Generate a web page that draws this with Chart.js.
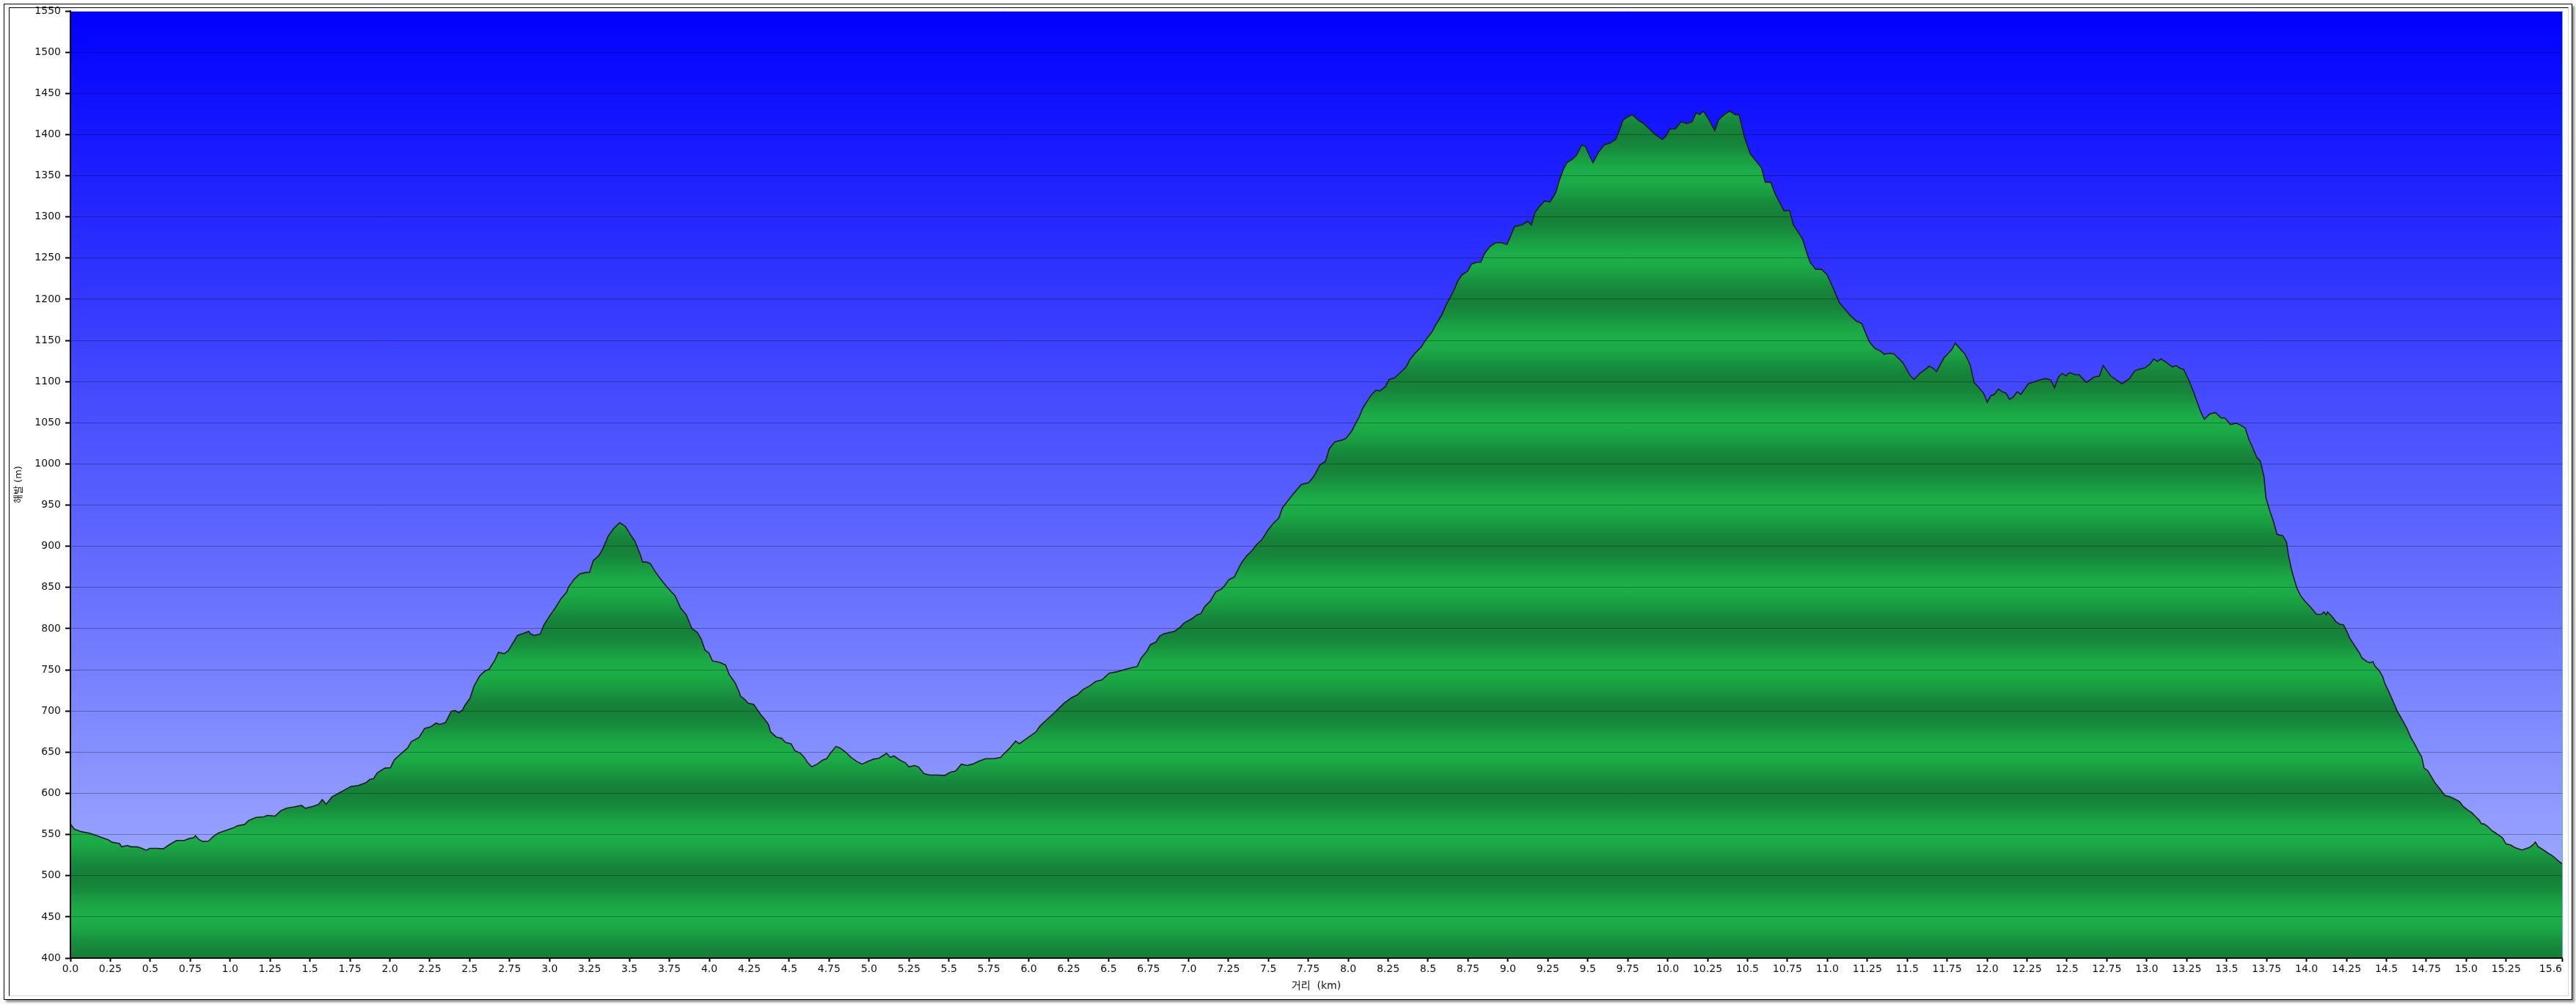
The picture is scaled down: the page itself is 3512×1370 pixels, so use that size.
<!DOCTYPE html>
<html lang="ko">
<head>
<meta charset="utf-8">
<title>고도 프로파일</title>
<script src="https://cdn.jsdelivr.net/npm/chart.js@4.4.1/dist/chart.umd.min.js"></script>
<style>
  html, body { margin: 0; padding: 0; background: #fff; }
  #wrap { position: relative; width: 3512px; height: 1370px; overflow: hidden; }
  .frame-outer {
    position: absolute; left: 5px; top: 5px; width: 3500px; height: 1356px;
    border: 1px solid #000; box-shadow: 3px 3px 3px rgba(0,0,0,0.45);
  }
  .frame-inner {
    position: absolute; left: 12px; top: 10px; width: 3488px; height: 1346px;
    border-left: 1px solid #000; border-top: 1px solid #000;
    border-right: 1px solid #d8d8d8; border-bottom: 1px solid #d8d8d8;
  }
  canvas { position: absolute; left: 0; top: 0; }
</style>
</head>
<body>
<div id="wrap">
  <div class="frame-outer"></div>
  <div class="frame-inner"></div>
  <canvas id="profile" width="3512" height="1370"></canvas>
</div>
<script>
// distance along the track (km) and elevation (m)
const distKm = [
  0.000,0.024,0.071,0.119,0.166,0.213,0.237,0.261,0.308,0.320,0.356,0.380,0.415,0.439,0.474,0.498,0.546,0.581,0.617,0.664,
  0.712,0.747,0.771,0.783,0.806,0.830,0.866,0.890,0.925,0.973,1.020,1.044,1.091,1.115,1.162,1.210,1.233,1.281,1.316,1.352,
  1.399,1.447,1.471,1.518,1.554,1.577,1.601,1.637,1.684,1.708,1.755,1.803,1.850,1.874,1.898,1.921,1.969,2.004,2.028,2.064,
  2.111,2.135,2.182,2.218,2.253,2.289,2.313,2.348,2.384,2.408,2.431,2.455,2.467,2.502,2.526,2.562,2.597,2.621,2.657,2.680,
  2.716,2.740,2.775,2.799,2.835,2.870,2.882,2.906,2.941,2.965,3.001,3.036,3.072,3.107,3.119,3.155,3.190,3.226,3.250,3.273,
  3.309,3.333,3.368,3.404,3.439,3.475,3.511,3.534,3.570,3.582,3.605,3.629,3.665,3.688,
  3.739,3.786,3.821,3.856,3.891,3.926,3.950,3.973,3.997,4.020,4.067,4.102,4.125,4.161,4.184,4.196,4.219,4.243,4.278,4.301,
  4.325,4.348,4.371,4.383,4.418,4.453,4.477,4.512,4.535,4.571,4.594,4.617,4.641,4.676,4.711,4.735,4.758,4.793,4.817,4.852,
  4.887,4.922,4.957,4.992,5.028,5.063,5.086,5.110,5.133,5.156,5.192,5.227,5.250,5.285,5.309,5.344,5.379,5.426,5.473,5.508,
  5.543,5.578,5.613,5.648,5.684,5.730,5.777,5.824,5.848,5.883,5.918,5.941,5.976,6.012,6.047,6.070,6.105,6.152,6.187,6.222,
  6.269,6.304,6.340,6.386,6.421,6.457,6.504,6.550,6.609,6.644,6.679,6.703,6.738,6.761,6.796,6.820,6.843,6.879,6.914,6.949,
  6.972,7.019,7.054,7.078,7.101,7.136,7.171,7.206,7.230,7.253,7.288,7.312,7.335,
  7.366,7.401,7.425,7.460,7.495,7.530,7.565,7.589,7.624,7.659,7.706,7.753,7.788,7.823,7.858,7.881,7.917,7.963,7.987,8.022,
  8.045,8.069,8.092,8.127,8.151,8.174,8.198,8.233,8.256,8.291,8.327,8.362,8.385,8.420,8.455,8.491,8.526,8.549,8.584,8.608,
  8.631,8.655,8.690,8.713,8.748,8.772,8.807,8.830,8.854,8.889,8.924,8.959,8.994,9.018,9.041,9.088,9.123,9.147,9.170,9.194,
  9.229,9.264,9.299,9.322,9.346,9.369,9.404,9.428,9.463,9.486,9.510,9.533,9.568,9.604,9.639,9.674,9.697,9.721,9.756,9.779,
  9.815,9.850,9.885,9.920,9.967,9.990,10.014,10.049,10.084,10.119,10.154,10.178,10.201,10.224,10.260,10.295,10.318,10.353,10.388,10.424,
  10.447,10.482,10.517,10.553,10.588,10.611,10.646,10.670,10.693,10.728,10.764,10.787,10.810,10.845,10.869,10.892,10.927,10.963,10.998,
  11.040,11.075,11.110,11.145,11.181,11.216,11.239,11.263,11.298,11.333,11.356,11.391,11.415,11.450,11.473,11.497,11.520,11.544,11.579,11.614,
  11.637,11.661,11.684,11.708,11.731,11.755,11.778,11.801,11.837,11.860,11.883,11.895,11.919,11.942,11.977,12.001,12.024,12.047,12.071,12.094,
  12.118,12.141,12.165,12.188,12.212,12.235,12.258,12.282,12.305,12.329,12.364,12.399,12.422,12.446,12.469,12.493,12.516,12.551,12.575,12.598,
  12.622,12.645,12.668,12.704,12.727,12.750,12.774,12.809,12.844,12.891,12.926,12.950,12.985,13.020,13.043,13.067,13.090,13.125,13.160,13.184,
  13.207,13.231,13.266,13.289,13.313,13.336,13.360,13.395,13.430,13.465,13.488,13.524,13.559,13.594,13.617,13.641,13.664,13.688,13.711,13.734,
  13.746,13.770,13.793,13.816,13.852,13.875,13.887,
  13.910,13.940,13.963,13.994,14.025,14.063,14.093,14.109,14.124,14.132,14.162,14.185,14.208,14.231,14.254,14.270,14.300,14.331,14.346,14.377,
  14.400,14.415,14.430,14.453,14.476,14.491,14.514,14.545,14.568,14.599,14.629,14.652,14.675,14.698,14.721,14.736,14.759,14.782,14.805,14.836,
  14.866,14.897,14.928,14.958,14.981,15.012,15.035,15.058,15.081,15.096,15.111,15.134,15.157,15.180,15.203,15.226,15.249,15.280,15.303,15.326,
  15.349,15.372,15.395,15.417,15.433,15.448,15.471,15.494,15.517,15.532,15.555,15.578,15.600
];
const elevM = [
  562.8,556.5,553.3,551.7,548.5,545.3,543.7,540.6,539.0,535.1,536.7,535.1,535.1,533.9,531.0,533.2,533.2,532.6,537.4,542.8,
  542.8,545.3,546.0,548.5,543.7,541.5,542.1,546.9,551.7,554.9,558.0,560.6,562.2,566.9,570.8,571.4,573.3,572.4,578.7,581.9,
  583.5,585.4,581.9,584.1,586.7,592.4,586.7,595.6,600.7,603.2,608.3,609.6,612.8,616.9,617.8,624.8,630.6,631.2,640.7,647.1,
  655.1,663.0,667.8,678.9,680.5,685.3,683.7,685.9,699.6,700.6,698.0,701.2,706.0,715.5,729.8,742.5,748.9,750.5,761.6,771.2,
  769.6,772.8,783.9,791.8,794.1,796.6,793.4,791.8,793.4,804.6,815.7,825.2,836.4,844.3,850.7,860.2,866.6,868.2,868.2,882.5,
  888.9,896.8,912.7,922.3,928.6,923.9,912.7,906.4,888.9,880.9,880.9,879.3,868.2,861.8,
  849.6,839.8,824.9,816.7,800.2,795.3,787.0,773.9,770.6,760.7,759.0,755.7,744.2,734.3,724.5,717.9,714.6,709.6,708.0,701.4,
  694.8,689.8,683.3,675.0,668.4,666.8,661.8,660.2,651.9,648.7,643.7,637.1,632.2,635.5,640.5,642.1,648.7,656.9,655.3,650.3,
  643.7,638.8,635.5,638.8,641.5,642.8,645.6,648.7,643.7,645.4,640.5,637.1,632.2,633.8,632.2,624.0,622.3,622.3,621.7,625.6,
  627.2,635.5,633.8,635.5,638.8,642.1,642.1,643.7,648.7,655.3,663.5,660.2,665.1,670.1,675.0,681.6,688.2,696.4,703.0,709.6,
  716.2,719.5,726.1,731.0,736.0,737.6,745.9,747.5,750.8,752.5,754.1,764.0,772.2,780.4,783.7,791.0,793.6,795.3,796.9,801.9,
  806.8,811.8,816.7,818.3,826.6,833.2,844.7,848.0,852.9,859.5,862.8,872.7,880.9,
  888.7,895.2,901.7,908.1,918.9,927.6,934.0,947.0,955.6,964.2,975.0,977.2,985.9,998.8,1003.1,1018.3,1026.9,1029.0,1031.2,1039.8,
  1048.5,1057.1,1067.9,1078.7,1085.1,1089.5,1088.6,1093.8,1102.4,1104.6,1111.1,1117.5,1126.2,1134.8,1141.3,1152.1,1160.7,1169.3,1180.1,1190.9,
  1199.6,1208.2,1223.3,1229.8,1234.1,1242.8,1244.9,1244.9,1255.7,1264.3,1268.7,1268.7,1266.5,1277.3,1288.1,1290.3,1294.6,1290.3,1305.4,1311.8,
  1319.2,1318.3,1329.1,1344.2,1357.2,1365.8,1370.1,1374.5,1387.4,1385.3,1374.5,1365.8,1378.8,1387.4,1389.6,1393.9,1404.7,1417.6,1422.0,1424.1,
  1417.6,1413.3,1406.8,1400.4,1393.9,1398.2,1406.8,1406.8,1415.5,1413.3,1415.5,1426.3,1424.1,1428.4,1417.6,1404.7,1417.6,1424.1,1428.4,1424.1,
  1424.1,1396.1,1376.6,1368.0,1359.3,1342.1,1342.1,1329.1,1320.5,1307.5,1307.5,1290.3,1283.8,1273.0,1257.9,1244.9,1236.3,1236.3,1229.8,
  1212.0,1195.9,1187.9,1180.0,1173.6,1170.4,1159.3,1148.2,1140.2,1137.0,1133.2,1134.5,1133.8,1127.5,1122.7,1114.8,1106.8,1102.7,1110.0,1114.8,
  1118.6,1116.3,1112.2,1121.1,1129.1,1133.8,1138.6,1146.6,1138.6,1133.8,1124.9,1119.5,1098.8,1094.1,1086.1,1075.0,1083.0,1084.5,1090.9,1087.7,
  1086.1,1078.2,1081.4,1087.7,1084.5,1090.9,1097.3,1098.8,1100.4,1102.0,1103.6,1102.0,1092.5,1105.2,1110.0,1106.8,1110.9,1108.4,1108.4,1103.6,
  1098.8,1102.0,1105.2,1106.8,1119.5,1113.2,1106.8,1102.0,1097.3,1103.6,1113.2,1114.8,1116.3,1121.1,1127.5,1124.3,1127.5,1122.7,1117.9,1119.5,
  1116.3,1114.8,1100.4,1089.3,1076.6,1063.9,1054.3,1060.7,1062.3,1055.9,1055.9,1047.9,1049.5,1046.4,1043.2,1028.9,1019.3,1008.2,1003.4,984.3,
  958.9,943.0,930.2,914.3,912.7,904.8,888.9,
  868.5,848.9,839.9,832.4,826.3,817.3,817.3,820.3,816.7,820.3,814.3,808.3,805.3,804.7,796.2,788.7,779.7,770.6,764.6,760.1,
  758.6,760.1,754.1,749.6,742.0,733.0,724.0,710.4,699.9,689.3,678.8,668.3,660.7,651.7,644.2,630.6,627.6,620.1,612.6,605.0,
  597.5,596.0,593.0,590.0,584.0,579.4,576.4,571.9,567.4,562.9,562.9,559.9,555.4,552.3,549.3,546.3,538.7,537.2,534.2,532.7,
  531.2,532.7,534.2,537.2,540.9,535.7,532.7,529.8,526.7,525.2,521.8,517.7,514.7
];

// axis ranges and tick steps
const xMin = 0, xMax = 15.6, xStep = 0.25;
const yMin = 400, yMax = 1550, yStep = 50;
const xTitle = '거리  (km)';
const yTitle = '해발 (m)';

const fontFamily = "'DejaVu Sans', 'Noto Sans CJK KR', sans-serif";
const greenDark = [21, 128, 56];
const greenLight = [28, 174, 73];

const points = distKm.map((d, i) => ({ x: d, y: elevM[i] }));

// sky gradient behind the plot + thin edge on the right
const plotBackground = {
  id: 'plotBackground',
  beforeDraw(chart) {
    const { ctx, chartArea: a } = chart;
    const g = ctx.createLinearGradient(0, a.top, 0, a.bottom);
    g.addColorStop(0, 'rgb(0,0,255)');
    g.addColorStop(1, 'rgb(170,184,255)');
    ctx.save();
    ctx.fillStyle = g;
    ctx.fillRect(a.left, a.top, a.right - a.left, a.bottom - a.top);
    ctx.restore();
  },
  afterDatasetsDraw(chart) {
    const { ctx, chartArea: a } = chart;
    ctx.save();
    ctx.strokeStyle = 'rgba(40,140,140,0.7)';
    ctx.lineWidth = 1;
    ctx.beginPath();
    ctx.moveTo(a.right + 0.5, a.top);
    ctx.lineTo(a.right + 0.5, a.bottom);
    ctx.stroke();
    ctx.restore();
  }
};

// banded green fill: dark on every 100 m, light on the 50s
function groundFill(context) {
  const chart = context.chart;
  const a = chart.chartArea;
  if (!a) return 'rgb(24,150,64)';
  const y = chart.scales.y;
  const h = a.bottom - a.top;
  const g = chart.ctx.createLinearGradient(0, a.top, 0, a.bottom);
  for (let v = yMin; v <= yMax; v += 10) {
    const t = Math.min(1, Math.max(0, (y.getPixelForValue(v) - a.top) / h));
    const k = (1 - Math.cos(((v - yMin) % 100) / 100 * 2 * Math.PI)) / 2;
    const c = greenDark.map((d, i) => Math.round(d + (greenLight[i] - d) * k));
    g.addColorStop(t, 'rgb(' + c.join(',') + ')');
  }
  return g;
}

new Chart(document.getElementById('profile'), {
  type: 'line',
  data: {
    datasets: [{
      data: points,
      fill: 'start',
      backgroundColor: groundFill,
      borderColor: '#1c1c1c',
      borderWidth: 1.6,
      pointRadius: 0,
      tension: 0
    }]
  },
  options: {
    responsive: false,
    animation: false,
    devicePixelRatio: 1,
    events: [],
    layout: { padding: { left: 0, top: 15, right: 19, bottom: 0 } },
    plugins: { legend: { display: false }, tooltip: { enabled: false } },
    scales: {
      x: {
        type: 'linear',
        min: xMin,
        max: xMax,
        border: { color: '#000', width: 2, z: 2 },
        grid: { drawOnChartArea: false, tickLength: 5, tickColor: '#000', tickWidth: 2 },
        ticks: {
          autoSkip: false, maxRotation: 0, minRotation: 0, padding: 2,
          color: '#111', font: { family: fontFamily, size: 14 },
          callback: (v) => {
            const s = Number.isInteger(v) ? v.toFixed(1) : String(v);
            // end label sits left of its tick, inside the frame
            return v === xMax ? s + '       ' : s;
          }
        },
        title: {
          display: true, text: xTitle, color: '#111',
          font: { family: fontFamily, size: 14 },
          padding: { top: 0, bottom: 17 }
        },
        afterBuildTicks: (scale) => {
          const t = [];
          // regular steps, dropping one that would crowd the end label
          for (let i = 0; i * xStep + xStep / 2 < xMax; i++) t.push({ value: i * xStep });
          t.push({ value: xMax });
          scale.ticks = t;
        },
        afterFit: (scale) => {
          scale.height = 64;
          scale.paddingLeft = 0;
          scale.paddingRight = 0;
        }
      },
      y: {
        type: 'linear',
        min: yMin,
        max: yMax,
        border: { color: '#000', width: 2, z: 2 },
        grid: {
          z: 1,
          lineWidth: 1,
          color: (c) => c.tick && c.tick.value === yMax ? 'rgba(200,200,255,0.8)' : 'rgba(0,0,0,0.3)',
          tickLength: 7, tickColor: '#000', tickWidth: 2
        },
        ticks: {
          stepSize: yStep, autoSkip: false, padding: 6,
          color: '#111', font: { family: fontFamily, size: 14 },
          callback: (v) => String(v)
        },
        title: {
          display: true, text: yTitle, color: '#111',
          font: { family: fontFamily, size: 13 },
          padding: { top: 18, bottom: 0 }
        },
        afterFit: (scale) => { scale.width = 96; }
      }
    }
  },
  plugins: [plotBackground]
});
</script>
</body>
</html>
